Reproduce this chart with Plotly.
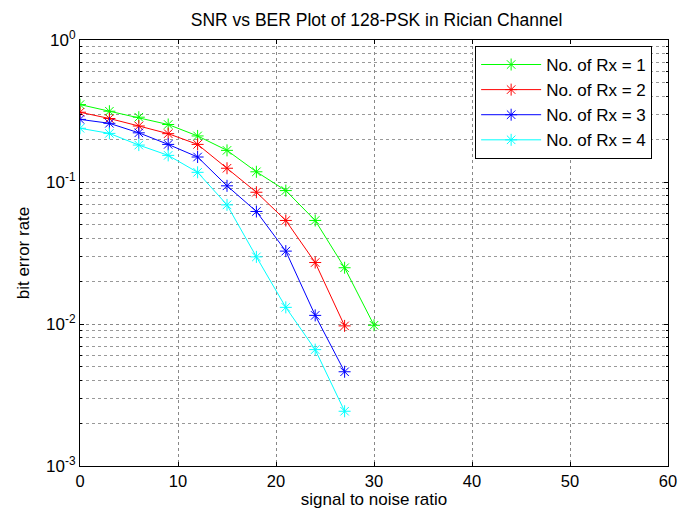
import plotly.graph_objects as go

snr = [0, 3, 6, 9, 12, 15, 18, 21, 24, 27, 30]
ber_rx1 = [0.351, 0.315, 0.286, 0.254, 0.211, 0.167, 0.118, 0.087, 0.0536, 0.0249, 0.0098]
ber_rx2 = [0.310, 0.280, 0.248, 0.219, 0.184, 0.125, 0.0847, 0.0536, 0.0271, 0.0097]
ber_rx3 = [0.276, 0.259, 0.222, 0.184, 0.150, 0.094, 0.062, 0.0326, 0.0115, 0.00461]
ber_rx4 = [0.239, 0.220, 0.182, 0.154, 0.117, 0.069, 0.0297, 0.0131, 0.0066, 0.00243]
names = ["No. of Rx = 1", "No. of Rx = 2", "No. of Rx = 3", "No. of Rx = 4"]
colors = ["#00ff00", "#ff0000", "#0000ff", "#00ffff"]
series = [ber_rx1, ber_rx2, ber_rx3, ber_rx4]
x_ticks = [0, 10, 20, 30, 40, 50, 60]
y_ticks = [1e-3, 1e-2, 1e-1, 1e0]
y_tick_text = ["10<sup>-3</sup>", "10<sup>-2</sup>", "10<sup>-1</sup>", "10<sup>0</sup>"]

fig = go.Figure()
for name, col, ys in zip(names, colors, series):
    fig.add_trace(go.Scatter(
        x=snr[:len(ys)], y=ys, name=name, mode="lines+markers",
        line=dict(color=col, width=1),
        marker=dict(symbol="asterisk-open", size=10, color=col, line=dict(color=col, width=1)),
    ))

minor_vals = []
for d in [1e-3, 1e-2, 1e-1]:
    for k in range(2, 10):
        minor_vals.append(d * k)

fig.update_layout(
    width=689, height=518,
    margin=dict(l=80, r=16, t=40, b=50),
    paper_bgcolor="white", plot_bgcolor="white",
    font=dict(family="Liberation Sans, Arial", size=16, color="black"),
    title=dict(text="SNR vs BER Plot of 128-PSK in Rician Channel", x=(80 + 673) / 2 / 689,
               xanchor="center", y=1 - 20 / 518, yanchor="middle", font=dict(size=17.5)),
    showlegend=True,
    legend=dict(x=0.672, y=0.986, xanchor="left", yanchor="top", bgcolor="white",
                bordercolor="black", borderwidth=1, font=dict(size=17),
                itemwidth=60, tracegroupgap=0),
)
fig.update_xaxes(
    range=[0, 60], tickvals=x_ticks, ticks="inside", ticklen=4, tickcolor="black",
    tickfont=dict(size=16.5),
    showline=True, linecolor="black", linewidth=1, mirror="ticks",
    showgrid=True, gridcolor="#888888", griddash="dot", gridwidth=1, zeroline=False,
    title=dict(text="signal to noise ratio", standoff=4, font=dict(size=17)),
)
fig.update_yaxes(
    type="log", range=[-3, 0], tickvals=y_ticks, ticktext=y_tick_text,
    ticks="inside", ticklen=4, tickcolor="black", tickfont=dict(size=17),
    showline=True, linecolor="black", linewidth=1, mirror="ticks",
    showgrid=True, gridcolor="#888888", griddash="dot", gridwidth=1, zeroline=False,
    minor=dict(tickvals=minor_vals, ticks="inside", ticklen=2, tickcolor="black",
               showgrid=True, gridcolor="#999999", griddash="dot", gridwidth=1),
    title=dict(text="bit error rate", standoff=12, font=dict(size=17)),
)

fig.write_html("out.html")
